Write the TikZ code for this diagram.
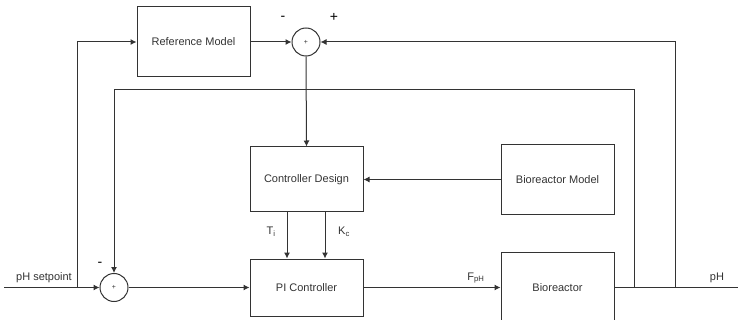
\documentclass[tikz,border=0pt]{standalone}
\usepackage{fontspec}
\setmainfont{Liberation Sans}
\usetikzlibrary{arrows.meta}
\definecolor{ln}{HTML}{333333}
\definecolor{tx}{HTML}{333333}
\tikzset{
  blk/.style={draw=ln, line width=1pt, rectangle, minimum width=113pt, inner sep=0pt, font=\fontsize{11}{13}\selectfont, text=tx},
  sumc/.style={draw=ln, line width=1pt, circle, minimum size=28pt, inner sep=0pt, font=\fontsize{7}{8}\selectfont, text=tx},
  con/.style={draw=ln, line width=1pt},
  arr/.style={con, -{Latex[length=6pt,width=6pt]}},
  lbl/.style={font=\fontsize{11}{13}\selectfont, text=tx, inner sep=0pt},
  sgn/.style={font=\fontsize{14}{16}\selectfont, text=black, inner sep=0pt}
}
\begin{document}
\begin{tikzpicture}[x=1pt,y=-1pt]
\useasboundingbox (0,0) rectangle (738,320);
\node[blk, minimum height=70pt] (refm) at (193.5,42) {Reference Model};
\node[sumc] (sum1) at (306,42) {+};
\node[blk, minimum height=65pt] (cd) at (306.5,179.5) {Controller Design};
\node[blk, minimum height=70pt] (bm) at (557.5,179.5) {Bioreactor Model};
\node[blk, minimum height=57pt] (pi) at (306.5,287.5) {PI Controller};
\node[blk, minimum height=70pt] (bio) at (557.5,287.5) {Bioreactor};
\node[sumc] (sum2) at (114,287.5) {+};

\coordinate (in) at (4,287.5);
\coordinate (tapin) at (77,287.5);
\coordinate (tapin2) at (77,42);
\coordinate (out) at (738,287.5);
\coordinate (tapa) at (634,287.5);
\coordinate (tapa2) at (634,90);
\coordinate (tapa3) at (114,90);
\coordinate (tapb) at (675,287.5);
\coordinate (tapb2) at (675,42);

\draw[arr] (in) -- (sum2.west);
\draw[arr] (tapin) -- (tapin2) -- (refm.west);
\draw[arr] (refm.east) -- (sum1.west);
\draw[arr] (sum1.south) -- (cd.north);
\draw[arr] (bm.west) -- (cd.east);
\draw[arr] (cd.south -| 287,0) -- (pi.north -| 287,0);
\draw[arr] (cd.south -| 325,0) -- (pi.north -| 325,0);
\draw[arr] (sum2.east) -- (pi.west);
\draw[arr] (pi.east) -- (bio.west);
\draw[con] (bio.east) -- (out);
\draw[arr] (tapa) -- (tapa2) -- (tapa3) -- (sum2.north);
\draw[arr] (tapb) -- (tapb2) -- (sum1.east);

\node[sgn] (m1) at (283,18) {-};
\node[sgn] (p1) at (334,17) {+};
\node[sgn] (m2) at (100,264) {-};
\node[lbl] (sp) at (44,278) {pH setpoint};
\node[lbl] (fph) at (476,278) {F\textsubscript{pH}};
\node[lbl] (ph) at (717,278) {pH};
\node[lbl] (ti) at (271,232) {T\textsubscript{i}};
\node[lbl] (kc) at (344,232) {K\textsubscript{c}};
\end{tikzpicture}
\end{document}
